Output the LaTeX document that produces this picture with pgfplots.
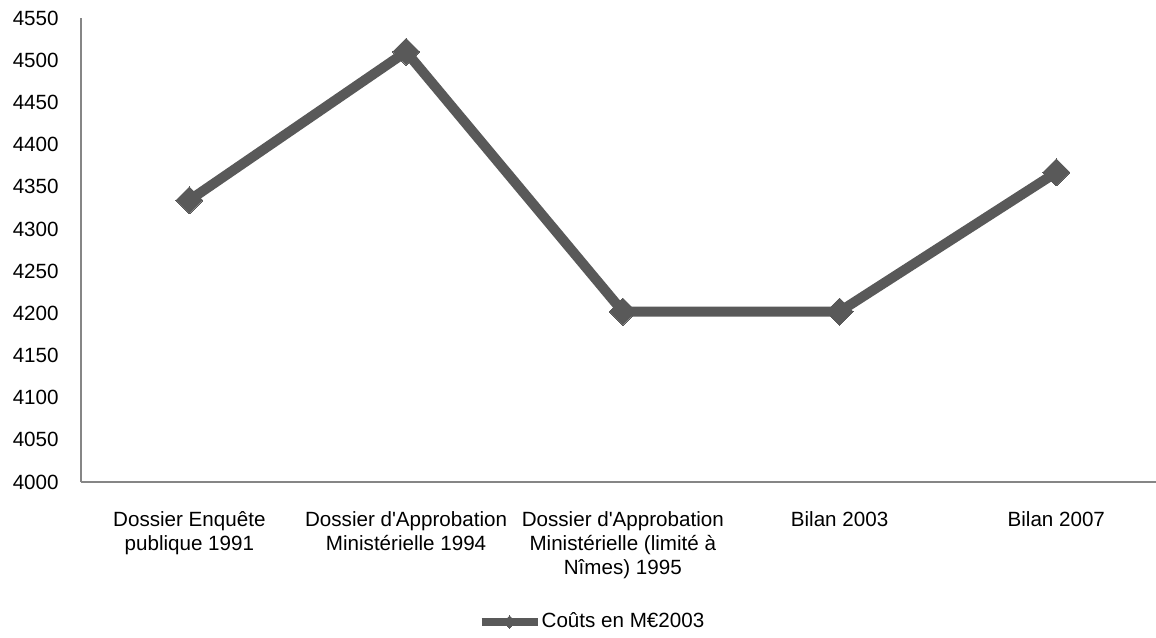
\documentclass[border=0pt]{standalone}
\usepackage{pgfplots}
\pgfplotsset{compat=1.18}
\usepackage{fontspec}
\setmainfont{Liberation Sans}
\definecolor{linegray}{RGB}{89,89,89}
\definecolor{axisgray}{RGB}{134,134,134}
\begin{document}
\begin{tikzpicture}
\begin{axis}[
  at={(0pt,0pt)}, anchor=south west,
  scale only axis,
  width=537.5pt, height=232pt,
  xmin=-0.5, xmax=4.46,
  ymin=4000, ymax=4550,
  ytick={4000,4050,...,4550},
  xtick={0,1,2,3,4},
  xticklabels={{Dossier Enquête\\publique 1991},{Dossier d\textquotesingle Approbation\\Ministérielle 1994},{Dossier d\textquotesingle Approbation\\Ministérielle (limité à\\Nîmes) 1995},{Bilan 2003},{Bilan 2007}},
  axis x line*=bottom, axis y line*=left,
  axis line style={-, draw=axisgray, line width=1pt},
  major tick length=0pt,
  /pgf/number format/assume math mode=true,
  /pgf/number format/1000 sep={},
  tick label style={font=\fontsize{10.3}{12}\selectfont, text=black},
  yticklabel style={inner sep=0pt, xshift=-11pt},
  xticklabel style={inner sep=0pt, yshift=-14.5pt, align=center, anchor=north},
  legend style={at={(axis description cs:0.4744,-0.3017)}, anchor=center, draw=none, fill=none,
    font=\fontsize{10.3}{12}\selectfont, inner sep=0pt, nodes={inner sep=0pt},
    /tikz/every even column/.append style={column sep=0pt}},
  legend cell align=left,
  legend image code/.code={\draw[#1, line width=4pt, mark size=2.2pt, mark repeat=2, mark phase=2] plot coordinates {(0pt,0pt)(14pt,0pt)(28pt,0pt)};},
  clip=false,
]
\addplot[color=linegray, line width=5pt, mark=square*, mark size=4.8pt,
  mark options={rotate=45, solid, fill=linegray, draw=linegray, line width=0pt}]
  coordinates {(0,4334) (1,4510) (2,4202) (3,4202) (4,4367)};
\addlegendentry{Coûts en M€2003}
\end{axis}
\pgfresetboundingbox
\useasboundingbox (-40.5pt,-77.5pt) rectangle (537.5pt,241pt);
\end{tikzpicture}
\end{document}
